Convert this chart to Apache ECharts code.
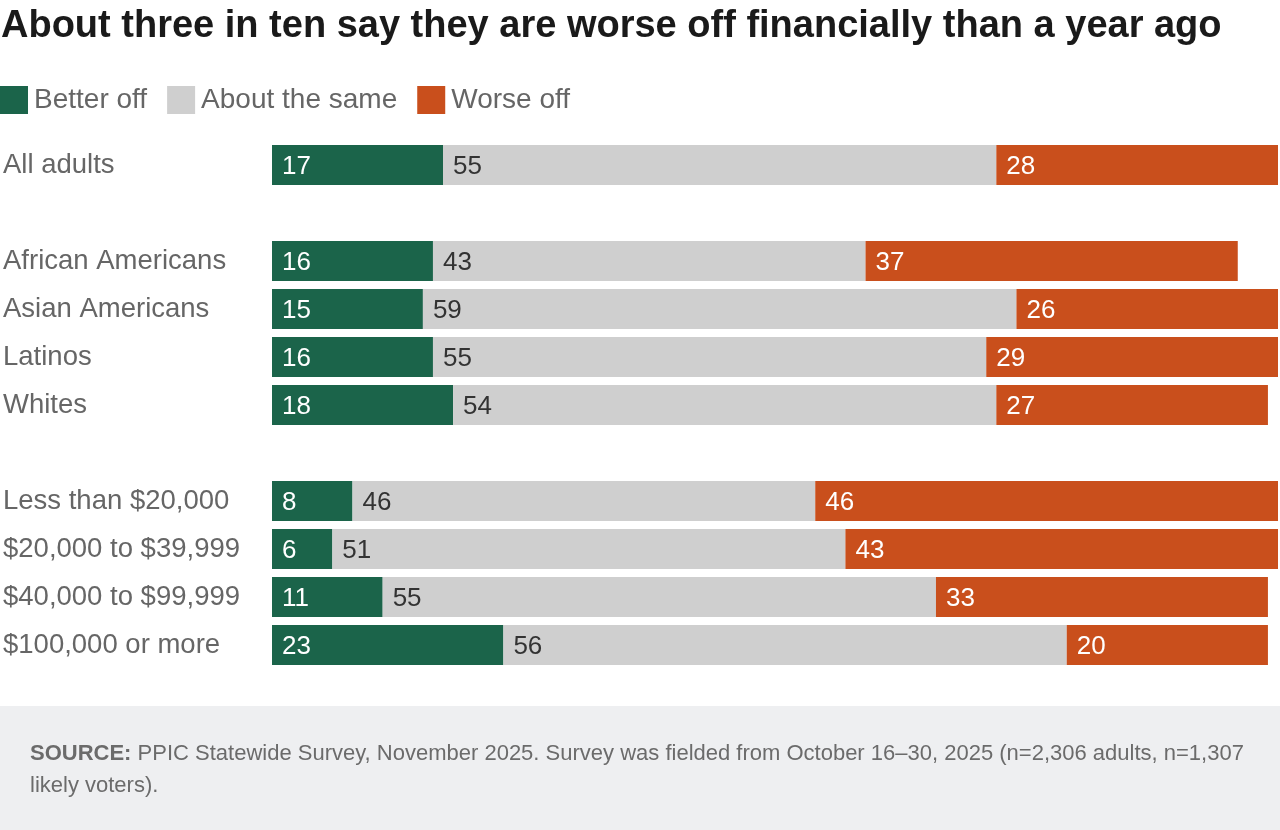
<!DOCTYPE html>
<html>
<head>
<meta charset="utf-8">
<script src="https://cdn.jsdelivr.net/npm/echarts@6/dist/echarts.min.js"></script>
<style>
  html, body { margin: 0; padding: 0; background: #fff; }
  #chart { width: 1280px; height: 830px; }
</style>
</head>
<body>
<div id="chart"></div>
<script>
// categories, blank entries make the gaps between groups
const categories = ['All adults', '', 'African Americans', 'Asian Americans', 'Latinos', 'Whites', ' ',
  'Less than $20,000', '$20,000 to $39,999', '$40,000 to $99,999', '$100,000 or more'];
const betterOff = [17, null, 16, 15, 16, 18, null, 8, 6, 11, 23];
const aboutSame = [55, null, 43, 59, 55, 54, null, 46, 51, 55, 56];
const worseOff = [28, null, 37, 26, 29, 27, null, 46, 43, 33, 20];

const seriesNames = ['Better off', 'About the same', 'Worse off'];
const colors = ['#1b644a', '#cfcfcf', '#c94f1c'];
const labelColors = ['#ffffff', '#333333', '#ffffff'];
const font = '"Liberation Sans", Arial, sans-serif';

const chart = echarts.init(document.getElementById('chart'));

function makeSeries(name, values, i) {
  return {
    name: name,
    type: 'bar',
    stack: 'total',
    barWidth: 40,
    data: values,
    itemStyle: { color: colors[i] },
    label: {
      show: true,
      position: 'insideLeft',
      distance: 10,
      offset: [0, 2],
      color: labelColors[i],
      fontSize: 26,
      fontFamily: font
    },
    emphasis: { disabled: true }
  };
}

const option = {
  animation: false,
  color: colors,
  title: {
    text: 'About three in ten say they are worse off financially than a year ago',
    left: 0,
    top: 8,
    padding: [0, 0, 0, 1],
    textStyle: {
      fontSize: 38,
      fontWeight: 'bold',
      color: '#1a1a1a',
      fontFamily: font
    }
  },
  legend: {
    left: 0,
    top: 86,
    padding: 0,
    itemWidth: 28,
    itemHeight: 28,
    itemGap: 20,
    icon: 'rect',
    textStyle: { fontSize: 28, color: '#666', fontFamily: font, padding: [2, 0, 0, 1] },
    data: seriesNames
  },
  grid: {
    left: 271,
    right: 2,
    top: 141,
    height: 528,
    containLabel: false
  },
  xAxis: {
    type: 'value',
    min: 0,
    max: 100,
    show: false
  },
  yAxis: {
    type: 'category',
    inverse: true,
    data: categories,
    axisLine: { show: false },
    axisTick: { show: false },
    axisLabel: {
      align: 'left',
      margin: 269,
      fontSize: 27.5,
      color: '#666',
      fontFamily: font,
      padding: [8, 0, 0, 0]
    }
  },
  series: [
    makeSeries(seriesNames[0], betterOff, 0),
    makeSeries(seriesNames[1], aboutSame, 1),
    makeSeries(seriesNames[2], worseOff, 2)
  ],
  graphic: [
    {
      type: 'rect',
      left: 0,
      top: 706,
      shape: { width: 1280, height: 124 },
      style: { fill: '#eeeff1' }
    },
    {
      type: 'text',
      left: 30,
      top: 738,
      style: {
        text: '{b|SOURCE:} PPIC Statewide Survey, November 2025. Survey was fielded from October 16\u201330, 2025 (n=2,306 adults, n=1,307\nlikely voters).',
        fontSize: 22,
        lineHeight: 32,
        fill: '#6b6b6b',
        fontFamily: font,
        rich: {
          b: { fontWeight: 'bold', fontSize: 22, fill: '#6b6b6b', fontFamily: font, lineHeight: 32 }
        }
      }
    }
  ]
};

chart.setOption(option);
</script>
</body>
</html>
